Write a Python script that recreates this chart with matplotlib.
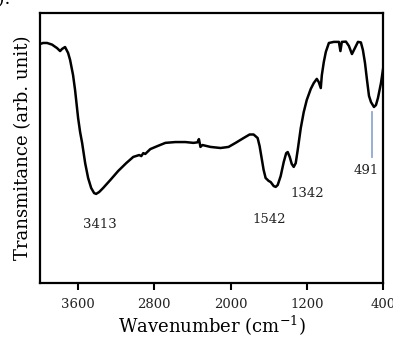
import matplotlib
matplotlib.use("Agg")
import matplotlib.pyplot as plt

wavenumber = [4000, 3968, 3926, 3874, 3821, 3789, 3768, 3737, 3705, 3684, 3653, 3632,
              3600, 3579, 3558, 3526, 3495, 3463, 3432, 3411, 3379, 3337, 3263, 3179,
              3095, 3021, 2958, 2937, 2916, 2895, 2842, 2768, 2684, 2579, 2474, 2390,
              2347, 2332, 2316, 2295, 2211, 2105, 2021, 1947, 1863, 1800, 1758, 1716,
              1695, 1674, 1653, 1632, 1600, 1579, 1547, 1526, 1505, 1474, 1442, 1416,
              1400, 1379, 1358, 1337, 1316, 1295, 1263, 1232, 1200, 1158, 1126, 1095,
              1074, 1053, 1042, 1021, 1000, 968, 916, 863, 847, 832, 789, 758, 726,
              695, 663, 632, 611, 589, 568, 547, 526, 495, 474, 453, 421, 390]
transmittance = [88.5, 88.9, 88.9, 88.3, 87.0, 85.9, 86.7, 87.4, 85.2, 82.6, 77.0, 71.5,
                 61.1, 55.9, 51.9, 44.4, 38.9, 35.2, 33.3, 33.0, 33.7, 35.2, 38.1, 41.5,
                 44.4, 46.7, 47.4, 47.0, 48.1, 47.8, 49.6, 50.7, 51.9, 52.2, 52.2, 51.9,
                 52.1, 53.3, 50.4, 51.1, 50.4, 50.0, 50.4, 51.9, 53.7, 55.0, 55.0, 53.7,
                 50.7, 46.3, 41.9, 38.9, 37.8, 37.4, 35.9, 35.6, 36.3, 39.6, 44.8, 48.1,
                 48.5, 46.7, 44.1, 43.0, 44.4, 49.3, 57.4, 63.3, 67.8, 71.9, 74.1, 75.6,
                 74.4, 72.2, 77.0, 81.9, 85.6, 88.9, 89.3, 89.3, 85.9, 89.3, 89.4, 87.8, 84.8,
                 87.0, 89.3, 89.1, 86.3, 81.5, 75.2, 69.3, 67.0, 65.2, 65.9, 68.5, 74.1, 81.5]

xticks = [3600, 2800, 2000, 1200, 400]
peak_labels = ["3413", "1542", "1342", "491"]
peak_label_x = [3368, 1590, 1190, 579]
peak_label_y = [21.5, 23.7, 33.0, 41.5]
marker_x = 515
marker_y = [63.3, 46.7]

plt.rcParams['font.family'] = ['DejaVu Serif']

fig = plt.figure(figsize=(3.93, 3.37), dpi=100)
ax = fig.add_axes([40/393, 1-283/337, 343/393, 270/337])

ax.plot(wavenumber, transmittance, color='black', lw=1.8, solid_joinstyle='round')
ax.plot([marker_x, marker_x], marker_y, color='#8fa9d6', lw=1.3)

for lab, x, y in zip(peak_labels, peak_label_x, peak_label_y):
    ax.text(x, y, lab, ha='center', va='center', fontsize=9.5, color='#222222')

ax.set_xlim(4000, 400)
ax.set_ylim(0, 100)
ax.set_xticks(xticks)
ax.set_xticklabels([str(t) for t in xticks], fontsize=9.5, color='#222222')
ax.set_yticks([])
ax.tick_params(axis='x', direction='out', length=5, width=1.5, pad=6)
for s in ax.spines.values():
    s.set_linewidth(1.6)

ax.set_xlabel('Wavenumber (cm$^{\\mathregular{-1}}$)', fontsize=13, labelpad=2)
ax.set_ylabel('Transmitance (arb. unit)', fontsize=13, labelpad=6)

fig.text(11/393, 1-4/337, 'b).', ha='right', va='baseline', fontsize=13)

fig.savefig('out.png', dpi=100)
